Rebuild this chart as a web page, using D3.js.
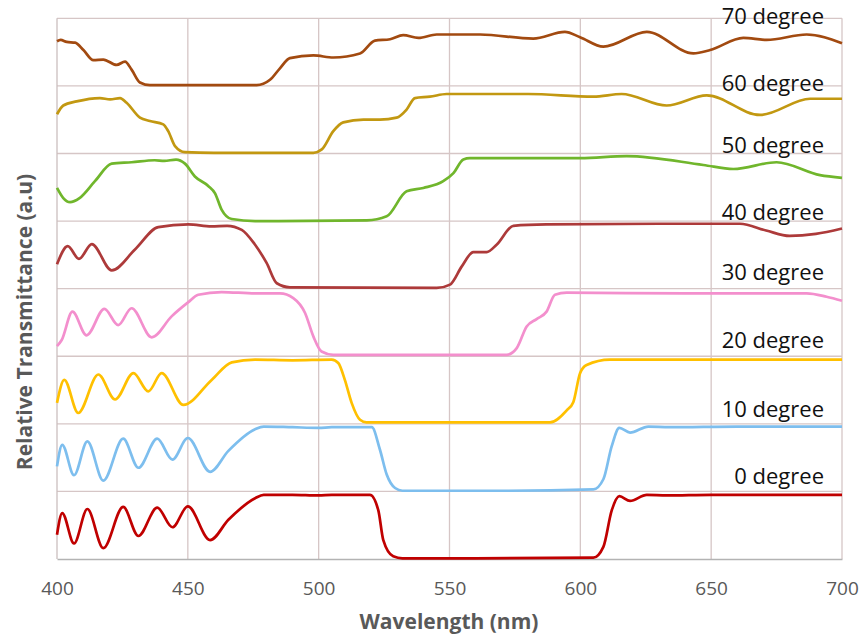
<!DOCTYPE html>
<html>
<head>
<meta charset="utf-8">
<script src="https://cdn.jsdelivr.net/npm/d3@7"></script>
<style>
  body { margin: 0; background: #fff; }
  svg { display: block; }
</style>
</head>
<body>
<svg id="chart" width="862" height="636"></svg>
<script>
// spectra, [wavelength nm, relative transmittance within its band]
const deg0 = [[400,0.36],[402,0.68],[406.5,0.23],[411.6,0.74],[417.7,0.16],[425.3,0.77],[431.1,0.34],[438.3,0.76],[444.1,0.47],[450,0.78],[458.5,0.28],[465.5,0.58],[475.7,0.9],[479,0.95],[490,0.95],[500,0.94],[505,0.95],[519.6,0.95],[522.8,0.72],[524.7,0.28],[528.5,0.04],[532,0.01],[560,0.01],[605,0.02],[608.8,0.18],[612,0.72],[614.9,0.93],[619,0.86],[625.4,0.95],[633,0.94],[650,0.95],[700,0.95]];
const deg10 = [[400,0.37],[402,0.69],[406.5,0.24],[411.6,0.74],[417.7,0.16],[425.3,0.78],[431.1,0.35],[438.3,0.78],[444.1,0.47],[450,0.79],[458.5,0.29],[465.5,0.6],[475.7,0.92],[479,0.96],[490,0.95],[500,0.94],[505,0.95],[520.3,0.95],[523.4,0.62],[526,0.25],[529.2,0.05],[532,0.01],[570,0.01],[605,0.03],[608.8,0.18],[612,0.67],[614.9,0.94],[619,0.87],[626,0.96],[634,0.95],[660,0.96],[700,0.96]];
const deg20 = [[400,0.31],[402.8,0.65],[408.1,0.16],[415.8,0.73],[422.2,0.36],[429.2,0.75],[434.9,0.48],[440,0.75],[448.3,0.28],[459.1,0.65],[466.8,0.91],[475.7,0.95],[490,0.94],[505,0.95],[507.5,0.9],[510,0.65],[512.6,0.31],[515.8,0.06],[518.3,0.02],[560,0.02],[588.4,0.02],[594.8,0.2],[597.3,0.32],[599.9,0.75],[602.4,0.87],[611.3,0.95],[650,0.95],[700,0.95]];
const deg30 = [[400,0.15],[401.8,0.24],[405.9,0.66],[411.3,0.31],[418.1,0.7],[423.4,0.46],[428.5,0.71],[436.2,0.28],[443.8,0.59],[450.2,0.8],[454,0.91],[462.9,0.95],[475.7,0.93],[485.2,0.93],[490.3,0.86],[494.8,0.64],[498,0.29],[501.1,0.07],[505.6,0.02],[571.8,0.02],[575.7,0.12],[579.5,0.44],[583.3,0.55],[587.1,0.66],[590.3,0.91],[594.8,0.94],[640,0.93],[686.5,0.93],[694.1,0.88],[700,0.82]];
const deg40 = [[400,0.36],[404.1,0.63],[408.4,0.44],[413.3,0.66],[420.9,0.27],[429.8,0.58],[438.7,0.91],[450.2,0.95],[459,0.92],[465,0.93],[470.6,0.87],[475.5,0.66],[480.1,0.38],[484,0.08],[489,0.02],[545.1,0.01],[550.2,0.06],[554.7,0.33],[559.1,0.54],[564.2,0.54],[568,0.65],[574.4,0.93],[587,0.95],[630,0.96],[661,0.96],[671,0.86],[680,0.78],[690,0.81],[700,0.89]];
const deg50 = [[400,0.49],[402.4,0.34],[405,0.28],[408.6,0.34],[414.5,0.59],[420.9,0.85],[428.5,0.87],[437.3,0.9],[441,0.89],[445.5,0.91],[448.9,0.85],[452.7,0.66],[457.8,0.52],[460.4,0.41],[462.9,0.17],[466.8,0.03],[475.7,0.0],[518.4,0.01],[526,0.07],[533.6,0.44],[540,0.49],[547.6,0.59],[551.5,0.71],[555.3,0.91],[557.8,0.93],[600,0.93],[617.7,0.96],[647,0.83],[658.5,0.77],[675,0.87],[691.6,0.68],[700,0.64]];
const deg60 = [[400,0.58],[402.4,0.71],[407.5,0.77],[416.4,0.82],[420.3,0.8],[424.1,0.82],[426.6,0.75],[431.7,0.53],[435.5,0.48],[440.6,0.43],[442.5,0.33],[445.1,0.11],[448.9,0.02],[460,0.01],[498,0.01],[501.2,0.06],[505.6,0.33],[509.4,0.46],[517.1,0.5],[523.4,0.5],[529.8,0.53],[533.6,0.65],[536.8,0.82],[542.5,0.84],[548.9,0.88],[580,0.88],[605,0.84],[615.8,0.88],[633,0.71],[648.3,0.86],[668.7,0.57],[687.8,0.81],[700,0.81]];
const deg70 = [[400,0.66],[401.4,0.68],[403.7,0.65],[406.9,0.64],[410.1,0.53],[413.9,0.38],[417.7,0.39],[422.8,0.31],[426,0.36],[428.5,0.24],[431.7,0.05],[435.5,0.01],[476.3,0.01],[481.4,0.09],[485.2,0.26],[489,0.41],[498,0.45],[505.6,0.42],[515.8,0.48],[521.5,0.67],[527.3,0.69],[532.3,0.75],[538.1,0.71],[545.1,0.76],[561.7,0.76],[582,0.7],[594.1,0.8],[599.9,0.72],[608.8,0.58],[625.4,0.8],[643.2,0.48],[649.6,0.53],[662.3,0.71],[671.2,0.68],[686.5,0.76],[700,0.63]];

const angles = [0, 10, 20, 30, 40, 50, 60, 70];
const spectra = [deg0, deg10, deg20, deg30, deg40, deg50, deg60, deg70];
const xTicks = [400, 450, 500, 550, 600, 650, 700];

const colors = ['#c00000', '#7dbeee', '#ffc000', '#f38fcd', '#ad3a3a', '#70b62c', '#c29811', '#a24a10'];
// where each "xx degree" text sits, in y units
const labelY = [1.11, 2.10, 3.12, 4.13, 5.01, 6.01, 6.93, 7.92];

const svg = d3.select('#chart');
const margin = { top: 18.3, right: 20, bottom: 77, left: 57 };
const width = 862, height = 636;
const innerW = width - margin.left - margin.right;
const innerH = height - margin.top - margin.bottom;

const x = d3.scaleLinear().domain([400, 700]).range([margin.left, margin.left + innerW]);
const y = d3.scaleLinear().domain([0, 8]).range([margin.top + innerH, margin.top]);

const grid = svg.append('g').attr('class', 'grid');
grid.selectAll('.vline')
  .data(xTicks.slice(1))
  .enter().append('line')
  .attr('x1', d => x(d)).attr('x2', d => x(d))
  .attr('y1', y(0)).attr('y2', y(8))
  .attr('stroke', '#d6c6c6').attr('stroke-width', 1.3);
grid.selectAll('.hline')
  .data(d3.range(1, 9))
  .enter().append('line')
  .attr('x1', x(400)).attr('x2', x(700))
  .attr('y1', d => y(d)).attr('y2', d => y(d))
  .attr('stroke', '#d6c6c6').attr('stroke-width', 1.3);

// left edge and bottom axis
svg.append('line')
  .attr('x1', x(400)).attr('x2', x(400)).attr('y1', y(0)).attr('y2', y(8))
  .attr('stroke', '#cbbfbf').attr('stroke-width', 1.3);

const xAxis = svg.append('g')
  .attr('transform', `translate(0,${y(0)})`)
  .call(d3.axisBottom(x).tickValues(xTicks).tickSize(0).tickPadding(23).tickFormat(d3.format('d')));
xAxis.select('.domain').attr('stroke', '#b3b3b3').attr('stroke-width', 1.5);
xAxis.selectAll('text')
  .attr('fill', '#595959')
  .style('font-family', '"Open Sans", sans-serif')
  .style('font-size', '19px');

const line = d3.line()
  .x(d => x(d[0]))
  .y(d => y(d[1]))
  .curve(d3.curveMonotoneX);

svg.append('g').selectAll('path')
  .data(spectra)
  .enter().append('path')
  .attr('d', (s, i) => line(s.map(p => [p[0], p[1] + i])))
  .attr('fill', 'none')
  .attr('stroke', (s, i) => colors[i])
  .attr('stroke-width', 2.7)
  .attr('stroke-linejoin', 'round');

svg.append('g').selectAll('text')
  .data(angles)
  .enter().append('text')
  .attr('x', 824)
  .attr('y', (d, i) => y(labelY[i]))
  .attr('text-anchor', 'end')
  .attr('fill', '#111')
  .style('font-family', '"Open Sans", sans-serif')
  .style('font-size', '22px')
  .text(d => d + ' degree');

svg.append('text')
  .attr('x', 449).attr('y', 629)
  .attr('text-anchor', 'middle')
  .attr('fill', '#595959')
  .style('font-family', '"Open Sans", sans-serif')
  .style('font-size', '21px')
  .style('font-weight', 'bold')
  .text('Wavelength (nm)');

svg.append('text')
  .attr('transform', 'translate(32,322) rotate(-90)')
  .attr('text-anchor', 'middle')
  .attr('fill', '#595959')
  .style('font-family', '"Open Sans", sans-serif')
  .style('font-size', '21px')
  .style('font-weight', 'bold')
  .text('Relative Transmittance (a.u)');
</script>
</body>
</html>
